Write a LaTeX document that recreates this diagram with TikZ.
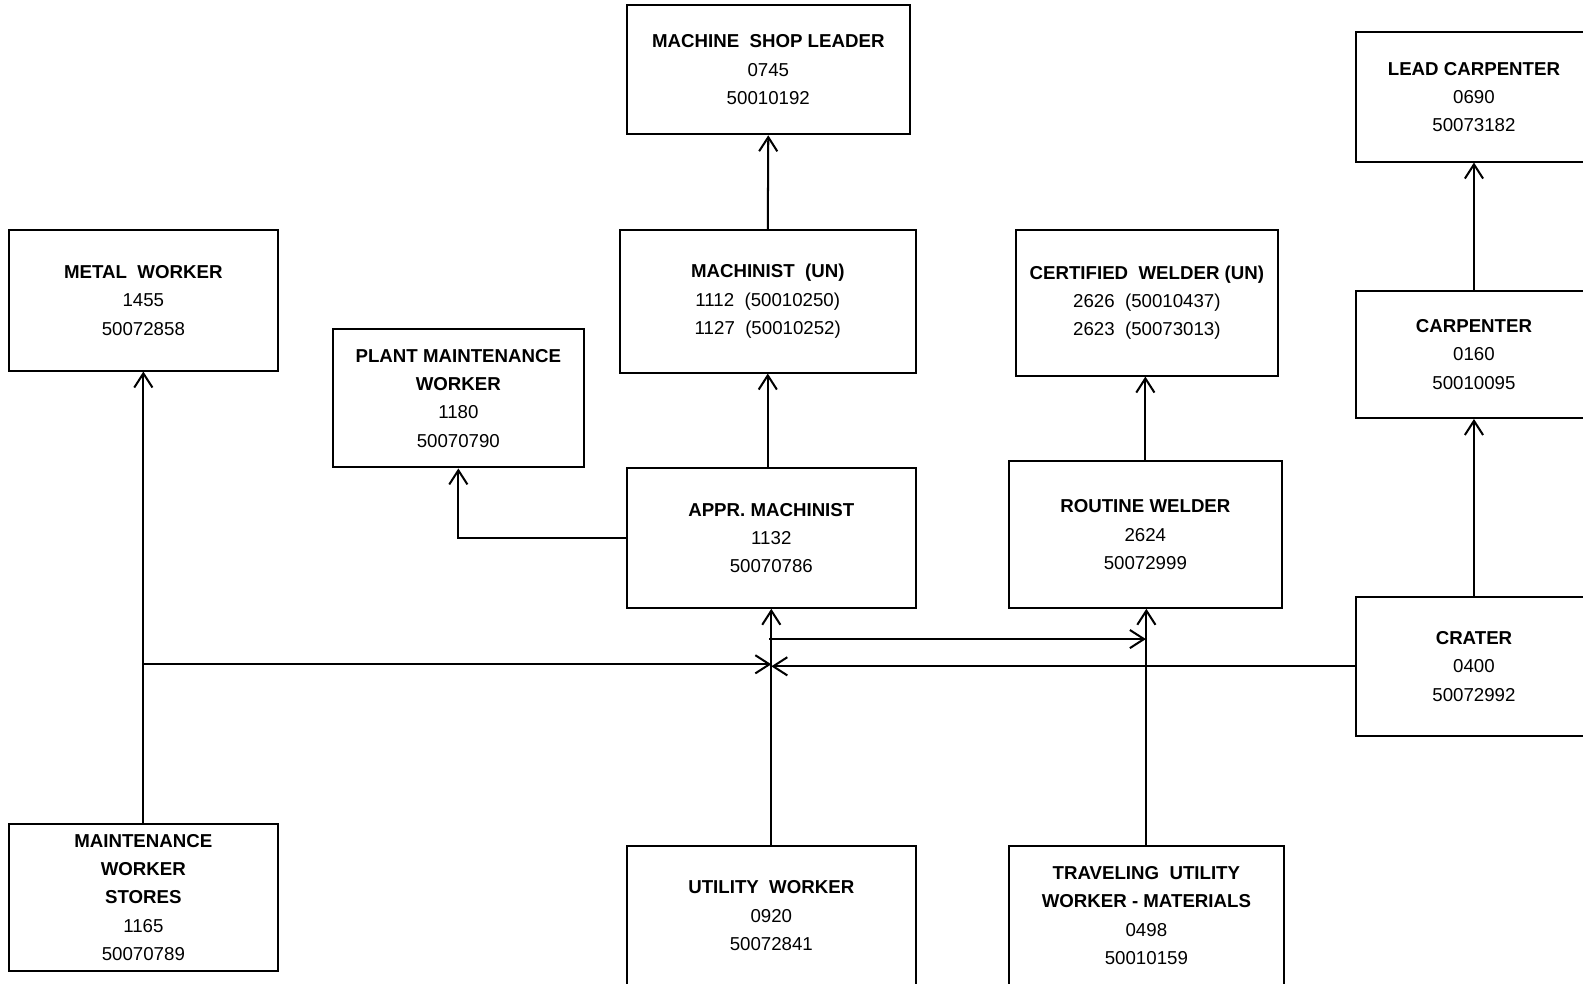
\documentclass[tikz,border=0pt]{standalone}
\usepackage{fontspec}
\setmainfont{Liberation Sans}
\usetikzlibrary{arrows.meta}
\begin{document}
\begin{tikzpicture}[x=1pt,y=-1pt,
 box/.style={draw, line width=2pt, align=center, inner sep=0pt, font=\fontsize{18.5}{28}\selectfont},
 conn/.style={line width=2pt, -{Straight Barb[length=14pt,width=18pt,line width=2pt]}}]
\useasboundingbox (0,0) rectangle (1568,974);
\clip (0,0) rectangle (1568,974);
\node[box, minimum width=280pt, minimum height=128pt] (msl) at (761,69) {\textbf{MACHINE\ \ SHOP\ LEADER}\\0745\\50010192};
\node[box, minimum width=234pt, minimum height=128pt] (lead) at (1460,96) {\textbf{LEAD CARPENTER}\\0690\\50073182};
\node[box, minimum width=266pt, minimum height=139pt] (metal) at (142,297.5) {\textbf{METAL\ \ WORKER}\\1455\\50072858};
\node[box, minimum width=248pt, minimum height=137pt] (pmw) at (454,394.5) {\textbf{PLANT MAINTENANCE}\\\textbf{WORKER}\\1180\\50070790};
\node[box, minimum width=293pt, minimum height=141pt] (mach) at (760.5,298.5) {\textbf{MACHINIST\ \ (UN)}\\1112\ \ (50010250)\\1127\ \ (50010252)};
\node[box, minimum width=260pt, minimum height=144pt] (cw) at (1136,300) {\textbf{CERTIFIED\ \ WELDER (UN)}\\2626\ \ (50010437)\\2623\ \ (50073013)};
\node[box, minimum width=234pt, minimum height=126pt] (carp) at (1460,351) {\textbf{CARPENTER}\\0160\\50010095};
\node[box, minimum width=286pt, minimum height=138pt] (appr) at (764,533) {\textbf{APPR. MACHINIST}\\1132\\50070786};
\node[box, minimum width=271pt, minimum height=145pt] (rw) at (1134.5,529.5) {\textbf{ROUTINE WELDER}\\2624\\50072999};
\node[box, minimum width=234pt, minimum height=138pt] (crater) at (1460,660) {\textbf{CRATER}\\0400\\50072992};
\node[box, minimum width=266pt, minimum height=146pt] (mws) at (142,889) {\textbf{MAINTENANCE}\\\textbf{WORKER}\\\textbf{STORES}\\1165\\50070789};
\node[box, minimum width=286pt, minimum height=138pt] (util) at (764,907) {\textbf{UTILITY\ \ WORKER}\\0920\\50072841};
\node[box, minimum width=273pt, minimum height=138pt] (trav) at (1135.5,907) {\textbf{TRAVELING\ \ UTILITY}\\\textbf{WORKER - MATERIALS}\\0498\\50010159};
\coordinate (ja) at (142,658);
\coordinate (jb) at (764,658);
\coordinate (jc) at (762,633);
\coordinate (jd) at (1135,633);
\draw[conn] (mach.north) -- (msl.south);
\draw[conn] (mach.south |- appr.north) -- (mach.south);
\draw[conn] (appr.west) -| (pmw.south);
\draw[conn] (mws.north) -- (metal.south);
\draw[conn] (ja) -- (jb);
\draw[conn] (util.north) -- (appr.south);
\draw[conn] (jc) -- (jd);
\draw[conn] (crater.west) -- (crater.west -| appr.south);
\draw[conn] (trav.north) -- (trav.north |- rw.south);
\draw[conn] (rw.north) -- (rw.north |- cw.south);
\draw[conn] (crater.north) -- (carp.south);
\draw[conn] (carp.north) -- (lead.south);
\end{tikzpicture}
\end{document}
